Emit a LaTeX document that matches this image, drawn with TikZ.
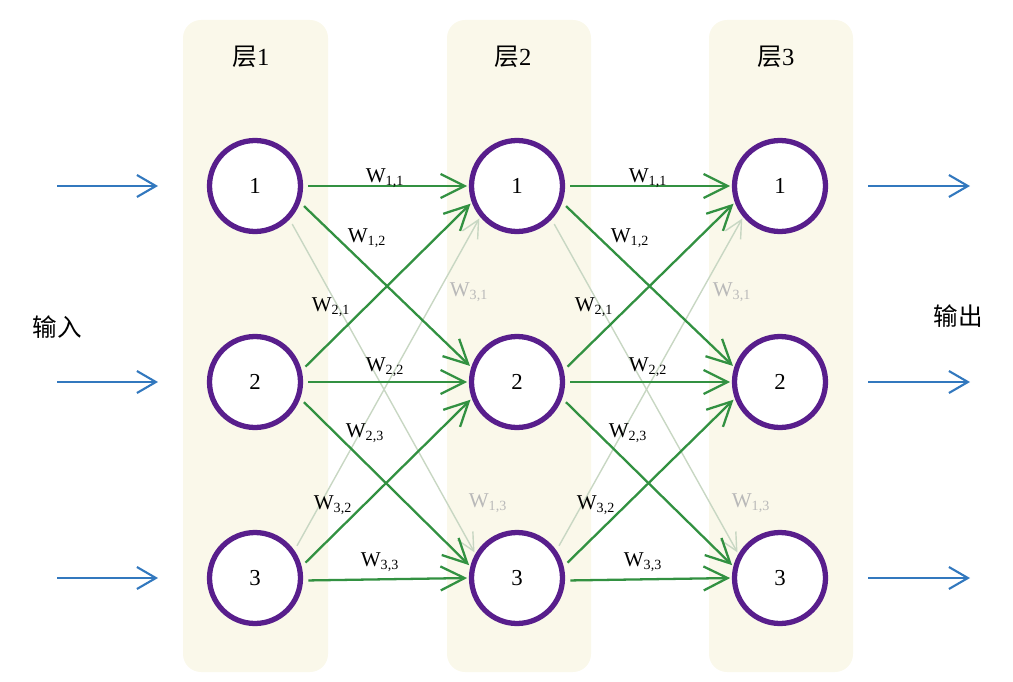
\documentclass[tikz,border=0pt]{standalone}
\usepackage{fontspec}
\setmainfont{Liberation Serif}
\newfontfamily\cjk{Noto Sans CJK SC}
\usetikzlibrary{arrows.meta}

\definecolor{panelcream}{RGB}{250,248,234}
\definecolor{neuronpurple}{RGB}{88,30,140}
\definecolor{linkgreen}{RGB}{50,145,65}
\definecolor{faintgreen}{RGB}{200,215,195}
\definecolor{faintgray}{RGB}{185,185,185}
\definecolor{signalblue}{RGB}{50,120,190}

\newcommand{\wgt}[2]{W\textsubscript{#1,#2}}

\tikzset{
  neuron/.style={circle, draw=neuronpurple, line width=3pt, fill=white,
    minimum size=1.82cm, inner sep=0pt, font=\fontsize{13}{15}\selectfont},
  link/.style={linkgreen, line width=1.3pt,
    -{Straight Barb[length=4.8mm,width=4.8mm]}, shorten <=3pt, shorten >=1pt},
  faintlink/.style={faintgreen, line width=0.8pt,
    -{Straight Barb[length=3.5mm,width=3.5mm]}, shorten <=3pt, shorten >=1pt},
  signal/.style={signalblue, line width=1.2pt,
    -{Straight Barb[length=3.8mm,width=4.4mm]}},
  wlabel/.style={font=\fontsize{12}{14}\selectfont},
  faintlabel/.style={wlabel, text=faintgray},
  titletext/.style={font=\fontsize{14}{16}\selectfont},
}

\begin{document}
\begin{tikzpicture}[x=0.02cm, y=-0.02cm]
  \useasboundingbox (0,0) rectangle (1013,682);

  % cream panels behind each layer
  \fill[panelcream, rounded corners=0.36cm] (183,20) rectangle (328,672);
  \fill[panelcream, rounded corners=0.36cm] (447,20) rectangle (591,672);
  \fill[panelcream, rounded corners=0.36cm] (709,20) rectangle (853,672);

  % layer titles
  \node[titletext] (title1) at (251,57) {{\cjk 层}1};
  \node[titletext] (title2) at (513,57) {{\cjk 层}2};
  \node[titletext] (title3) at (776,57) {{\cjk 层}3};

  % side texts
  \node[titletext] (inText) at (57,327) {\cjk 输入};
  \node[titletext] (outText) at (958,316) {\cjk 输出};

  % neurons
  \node[neuron] (L1n1) at (255,186) {1};
  \node[neuron] (L1n2) at (255,382) {2};
  \node[neuron] (L1n3) at (255,578) {3};
  \node[neuron] (L2n1) at (517,186) {1};
  \node[neuron] (L2n2) at (517,382) {2};
  \node[neuron] (L2n3) at (517,578) {3};
  \node[neuron] (L3n1) at (780,186) {1};
  \node[neuron] (L3n2) at (780,382) {2};
  \node[neuron] (L3n3) at (780,578) {3};

  % faint links (layer 1 -> 2)
  \draw[faintlink] (L1n1.-44) -- (L2n3.150);
  \draw[faintlink] (L1n3.35) -- (L2n1.-140);
  % faint links (layer 2 -> 3)
  \draw[faintlink] (L2n1.-44) -- (L3n3.150);
  \draw[faintlink] (L2n3.35) -- (L3n1.-140);

  % green links (layer 1 -> 2)
  \draw[link] (L1n1.0) -- (L2n1.180);
  \draw[link] (L1n1.-20) -- (L2n2.162);
  \draw[link] (L1n2.14) -- (L2n1.-160);
  \draw[link] (L1n2.0) -- (L2n2.180);
  \draw[link] (L1n2.-20) -- (L2n3.166);
  \draw[link] (L1n3.14) -- (L2n2.-160);
  \draw[link] (L1n3.-3) -- (L2n3.180);

  % green links (layer 2 -> 3)
  \draw[link] (L2n1.0) -- (L3n1.180);
  \draw[link] (L2n1.-20) -- (L3n2.162);
  \draw[link] (L2n2.14) -- (L3n1.-160);
  \draw[link] (L2n2.0) -- (L3n2.180);
  \draw[link] (L2n2.-20) -- (L3n3.166);
  \draw[link] (L2n3.14) -- (L3n2.-160);
  \draw[link] (L2n3.-3) -- (L3n3.180);

  % weight labels (layer 1 -> 2)
  \node[wlabel] (wA11) at (385,178) {\wgt11};
  \node[wlabel] (wA12) at (367,238) {\wgt12};
  \node[wlabel] (wA21) at (331,307) {\wgt21};
  \node[wlabel] (wA22) at (385,367) {\wgt22};
  \node[wlabel] (wA23) at (365,433) {\wgt23};
  \node[wlabel] (wA32) at (333,505) {\wgt32};
  \node[wlabel] (wA33) at (380,562) {\wgt33};
  \node[faintlabel] (wA31) at (469,292) {\wgt31};
  \node[faintlabel] (wA13) at (488,503) {\wgt13};

  % weight labels (layer 2 -> 3)
  \node[wlabel] (wB11) at (648,178) {\wgt11};
  \node[wlabel] (wB12) at (630,238) {\wgt12};
  \node[wlabel] (wB21) at (594,307) {\wgt21};
  \node[wlabel] (wB22) at (648,367) {\wgt22};
  \node[wlabel] (wB23) at (628,433) {\wgt23};
  \node[wlabel] (wB32) at (596,505) {\wgt32};
  \node[wlabel] (wB33) at (643,562) {\wgt33};
  \node[faintlabel] (wB31) at (732,292) {\wgt31};
  \node[faintlabel] (wB13) at (751,503) {\wgt13};

  % input and output signals
  \coordinate (in1a) at (57,186);  \coordinate (in1b) at (158,186);
  \coordinate (in2a) at (57,382);  \coordinate (in2b) at (158,382);
  \coordinate (in3a) at (57,578);  \coordinate (in3b) at (158,578);
  \coordinate (out1a) at (868,186); \coordinate (out1b) at (970,186);
  \coordinate (out2a) at (868,382); \coordinate (out2b) at (970,382);
  \coordinate (out3a) at (868,578); \coordinate (out3b) at (970,578);
  \draw[signal] (in1a) -- (in1b);
  \draw[signal] (in2a) -- (in2b);
  \draw[signal] (in3a) -- (in3b);
  \draw[signal] (out1a) -- (out1b);
  \draw[signal] (out2a) -- (out2b);
  \draw[signal] (out3a) -- (out3b);

\end{tikzpicture}
\end{document}
